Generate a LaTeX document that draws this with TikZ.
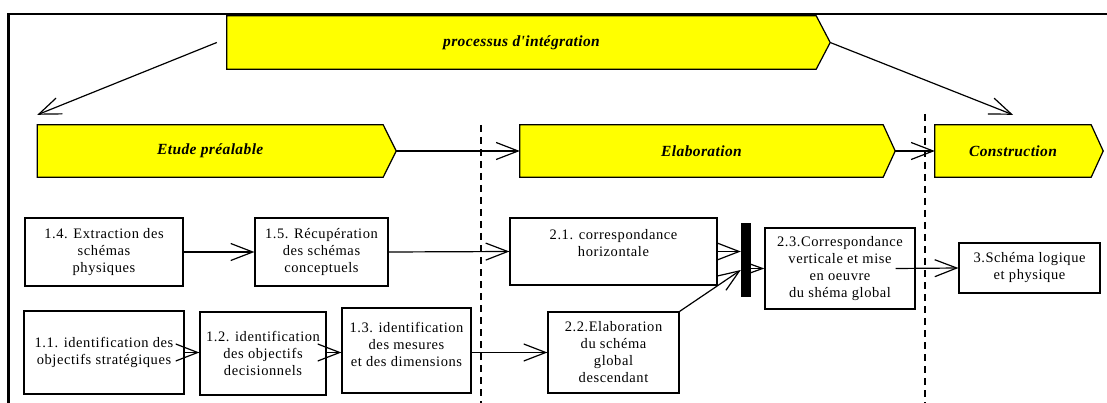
\documentclass[tikz,border=0pt]{standalone}
\usepackage{fontspec}
\setmainfont{Liberation Serif}
\newfontfamily\boxfont[LetterSpace=4]{Liberation Serif}
\newfontfamily\phasefont[LetterSpace=2.5]{Liberation Serif}
\usetikzlibrary{arrows.meta,calc}
\pgfdeclarelayer{background}
\pgfsetlayers{background,main}
\definecolor{phaseyellow}{RGB}{255,255,0}
\begin{document}
\begin{tikzpicture}[x=1pt,y=-1pt,
  box/.style={draw, line width=1.2pt, inner sep=2pt, align=center,
    font=\boxfont\fontsize{14.5}{17}\selectfont},
  phase/.style={inner sep=0pt, font=\phasefont\bfseries\itshape\fontsize{15.5}{18}\selectfont},
  phasebg/.style={fill=phaseyellow, draw=black, line width=1.2pt, line join=miter},
  conn/.style={line width=1.2pt, -{Straight Barb[length=22pt,width=17pt]}},
  smallconn/.style={line width=1.2pt, -{Straight Barb[length=14pt,width=10pt]}},
  sep/.style={line width=1.2pt, dash pattern=on 7pt off 5pt},
  frameline/.style={line width=2.4pt}
]
\useasboundingbox (0,0) rectangle (1107,403);

% frame
\draw[frameline] (8.6,410) -- (8.6,14) -- (1115,14);

% phase nodes (rectangular part)
\node[phase, minimum width=589pt, minimum height=53pt] (proc) at (521.5,42.5) {processus d'intégration};
\node[phase, minimum width=345.5pt, minimum height=52pt] (etude) at (210.25,151) {Etude préalable};
\node[phase, minimum width=363pt, minimum height=52pt] (elab) at (701.5,151) {Elaboration};
\node[phase, minimum width=156pt, minimum height=52pt] (constr) at (1013,151) {Construction};

\begin{pgfonlayer}{background}
\path[phasebg] (proc.north west) -- (proc.north east) -- ([xshift=14pt]proc.east) -- (proc.south east) -- (proc.south west) -- cycle;
\path[phasebg] (etude.north west) -- (etude.north east) -- ([xshift=13pt]etude.east) -- (etude.south east) -- (etude.south west) -- cycle;
\path[phasebg] (elab.north west) -- (elab.north east) -- ([xshift=12pt]elab.east) -- (elab.south east) -- (elab.south west) -- cycle;
\path[phasebg] (constr.north west) -- (constr.north east) -- ([xshift=12pt]constr.east) -- (constr.south east) -- (constr.south west) -- cycle;
\end{pgfonlayer}

% separators
\draw[sep] (481,125) -- (481,403);
\draw[sep] (925,114) -- (925,403);

% boxes
\node[box, minimum width=158pt, minimum height=68pt] (b14) at (104,252) {1.4. Extraction des\\schémas\\physiques};
\node[box, minimum width=133pt, minimum height=68pt] (b15) at (321.5,252) {1.5. Récupération\\des schémas\\conceptuels};
\node[box, minimum width=160pt, minimum height=83pt] (b11) at (104,352.5) {1.1. identification des\\objectifs stratégiques};
\node[box, minimum width=126pt, minimum height=83pt] (b12) at (263,353.5) {1.2. identification\\des objectifs\\decisionnels};
\node[box, minimum width=129pt, minimum height=85pt] (b13) at (406.5,350.5) {1.3. identification\\des mesures\\et des dimensions\\[-5pt]\mbox{}};
\node[box, minimum width=207pt, minimum height=67pt] (b21) at (613.5,251.5) {2.1. correspondance\\horizontale\\\mbox{}};
\node[box, minimum width=131pt, minimum height=81pt] (b22) at (613.5,352.5) {2.2.Elaboration\\du schéma\\global\\descendant};
\node[fill=black, inner sep=0pt, minimum width=10pt, minimum height=74pt] (bar) at (746,260) {};
\node[box, minimum width=150pt, minimum height=81pt] (b23) at (840,268.5) {2.3.Correspondance\\verticale et mise\\en oeuvre\\du shéma global};
\node[box, minimum width=141pt, minimum height=50pt] (b3) at (1029.5,268) {3.Schéma logique\\et physique};

% phase connectors
\draw[conn] ([xshift=-10pt]proc.west) -- ([yshift=10pt]etude.north west);
\draw[conn] ([xshift=14pt]proc.east) -- ([yshift=10pt]constr.north);
\draw[conn] ([xshift=13pt]etude.east) -- (elab.west);
\draw[conn] ([xshift=12pt]elab.east) -- (constr.west);

% box connectors
\draw[conn] (b14.east) -- (b15.west);
\draw[conn] (b15.east) -- (b21.west);
\draw[conn] (b11.east) -- (b11.east -| b12.west);
\draw[conn] (b12.east |- b11.east) -- (b11.east -| b13.west);
\draw[conn] (b13.east |- b11.east) -- (b11.east -| b22.west);
\draw[conn] (b21.east) -- (b21.east -| bar.west);
\draw[conn] (b22.north east) -- ([yshift=-10pt]bar.west);
\draw[smallconn] (b23.west -| bar.east) -- (b23.west);
\draw[conn] ([xshift=-20pt]b23.east) -- (b3.west);
\end{tikzpicture}
\end{document}
